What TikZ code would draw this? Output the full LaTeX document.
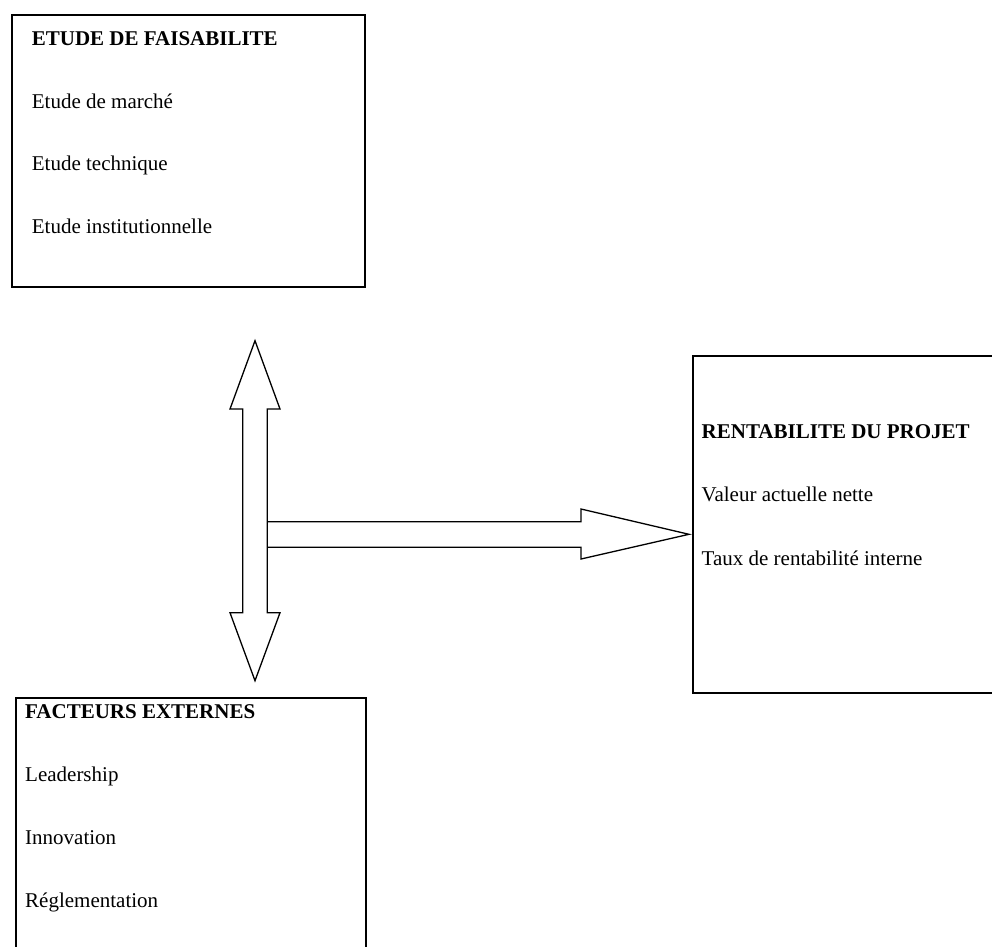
\documentclass[tikz,border=0pt]{standalone}
\usepackage{fontspec}
\setmainfont{Liberation Serif}
\begin{document}
\begin{tikzpicture}[x=1pt,y=-1pt]
    \tikzstyle{box}=[draw=black,line width=2pt,inner sep=0pt,anchor=north west]
    \tikzstyle{item}=[anchor=base west,inner sep=0pt,font=\fontsize{21}{25}\selectfont]
    \tikzstyle{head}=[item,font=\fontsize{21}{25}\selectfont\bfseries]
    \tikzstyle{fat}=[draw=black,line width=1.3pt,fill=white,line join=miter]
    \useasboundingbox (0,0) rectangle (992,946);
    \clip (0,0) rectangle (992,946);
    \node (faisa)[box,minimum width=353.3pt,minimum height=272pt] at (10.7,14) {};
    \node (renta)[box,minimum width=330pt,minimum height=336.7pt] at (692,355) {};
    \node (facteurs)[box,minimum width=350pt,minimum height=270pt] at (15,696.7) {};
    \node (f0)[head] at (31.7,45) {ETUDE DE FAISABILITE};
    \node (f1)[item] at (31.7,108.3) {Etude de march\'e};
    \node (f2)[item] at (31.7,170.7) {Etude technique};
    \node (f3)[item] at (31.7,233.3) {Etude institutionnelle};
    \node (r0)[head] at (701.5,438.3) {RENTABILITE DU PROJET};
    \node (r1)[item] at (701.5,501.2) {Valeur actuelle nette};
    \node (r2)[item] at (701.5,565.4) {Taux de rentabilit\'e interne};
    \node (e0)[head] at (25,718.3) {FACTEURS EXTERNES};
    \node (e1)[item] at (25,781.7) {Leadership};
    \node (e2)[item] at (25,844) {Innovation};
    \node (e3)[item] at (25,907.3) {R\'eglementation};
    \coordinate (up) at (255,340.7);
    \coordinate (root) at (267.3,521.7);
    \coordinate (tip) at (689,534.3);
    \draw [fat] (root) -- (581,521.7) -- (581,509) -- (tip) -- (581,559) -- (581,547.3) -- (267.3,547.3);
    \draw [fat] (up) -- ++(25,68.3) -- ++(-12.7,0) -- ++(0,203.7) -- ++(12.7,0) -- ++(-25,68)
        -- ++(-25,-68) -- ++(12.7,0) -- ++(0,-203.7) -- ++(-12.7,0) -- cycle;
\end{tikzpicture}
\end{document}
